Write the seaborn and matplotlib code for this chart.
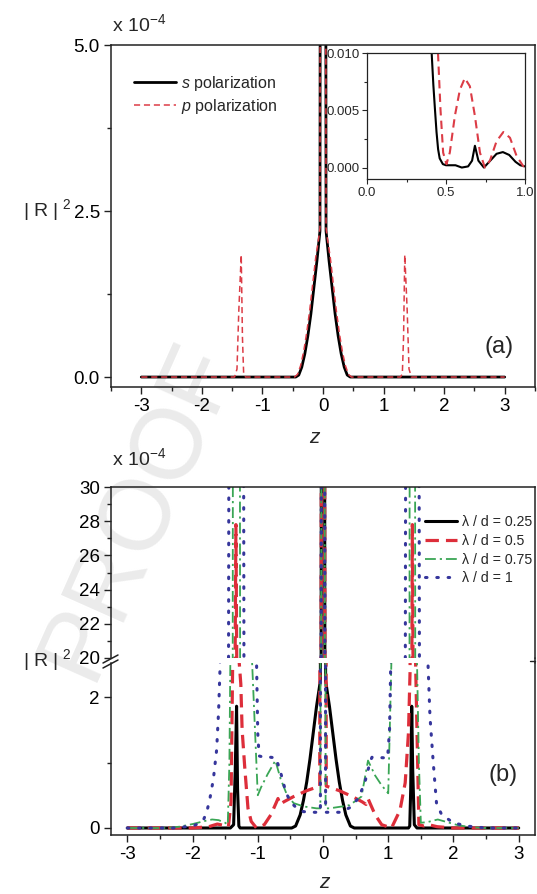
import matplotlib
matplotlib.use('Agg')
import matplotlib.pyplot as plt
import seaborn as sns
import pandas as pd
from matplotlib.lines import Line2D
from matplotlib.ticker import MultipleLocator, FormatStrFormatter

sns.set_theme(style='ticks')
plt.rcParams['font.family'] = ['Liberation Sans', 'DejaVu Sans']
plt.rcParams['mathtext.fontset'] = 'custom'
plt.rcParams['mathtext.rm'] = 'Liberation Sans'
plt.rcParams['mathtext.it'] = 'Liberation Sans:italic'
plt.rcParams['axes.linewidth'] = 1.1
plt.rcParams['axes.edgecolor'] = '#222222'
plt.rcParams['axes.facecolor'] = 'none'

# ---- panel (a): |R|^2 (x 1e-4) vs z ----
z_s_a = [-3.0, -0.45, -0.40, -0.35, -0.30, -0.25, -0.20, -0.15, -0.10, -0.05, -0.045, 0.0,
         0.045, 0.05, 0.10, 0.15, 0.20, 0.25, 0.30, 0.35, 0.40, 0.45, 3.0]
r_s_a = [0.0, 0.0, 0.03, 0.15, 0.35, 0.62, 0.95, 1.35, 1.75, 2.20, 8.0, 20.0,
         8.0, 2.20, 1.75, 1.35, 0.95, 0.62, 0.35, 0.15, 0.03, 0.0, 0.0]

z_p_a = [-3.0, -1.46, -1.42, -1.39, -1.35, -1.33, -1.31, -1.28, -0.47, -0.42, -0.37, -0.32,
         -0.27, -0.22, -0.17, -0.12, -0.07, -0.05, -0.045, 0.0, 0.045, 0.05, 0.07, 0.12,
         0.17, 0.22, 0.27, 0.32, 0.37, 0.42, 0.47, 1.28, 1.31, 1.33, 1.35, 1.39, 1.42, 1.46, 3.0]
r_p_a = [0.0, 0.0, 0.12, 1.00, 1.84, 0.60, 0.05, 0.0, 0.0, 0.04, 0.17, 0.38,
         0.66, 1.00, 1.40, 1.80, 2.10, 2.25, 8.0, 20.0, 8.0, 2.25, 2.10, 1.80,
         1.40, 1.00, 0.66, 0.38, 0.17, 0.04, 0.0, 0.0, 0.05, 0.60, 1.84, 1.00, 0.12, 0.0, 0.0]

# inset of panel (a)
z_s_in = [0.0, 0.40, 0.41, 0.42, 0.43, 0.44, 0.45, 0.46, 0.48, 0.50, 0.53, 0.56, 0.60, 0.64,
          0.665, 0.683, 0.705, 0.74, 0.78, 0.82, 0.86, 0.90, 0.94, 0.97, 1.0]
r_s_in = [0.05, 0.0130, 0.0098, 0.0072, 0.0051, 0.0031, 0.0016, 0.0008, 0.0003, 0.0002, 0.0002,
          0.0002, 0.0, 0.0001, 0.0006, 0.0019, 0.0006, 0.0, 0.0006, 0.0012, 0.00135, 0.0011,
          0.0005, 0.0002, 0.0001]
z_p_in = [0.0, 0.44, 0.45, 0.465, 0.482, 0.503, 0.524, 0.556, 0.588, 0.619, 0.651, 0.683,
          0.715, 0.746, 0.778, 0.82, 0.863, 0.905, 0.947, 0.99, 1.0]
r_p_in = [0.05, 0.0140, 0.0098, 0.0051, 0.0013, 0.0003, 0.0013, 0.0045, 0.0068, 0.0078, 0.0071,
          0.0045, 0.0013, 0.0, 0.0006, 0.0023, 0.0031, 0.0026, 0.0010, 0.0001, 0.0]

# ---- panel (b): four lambda/d values ----
z_b1 = [-3.0, -1.42, -1.37, -1.345, -1.325, -1.31, -1.29, -1.27, -0.48, -0.42, -0.35, -0.30,
        -0.25, -0.20, -0.15, -0.10, -0.04, -0.03, -0.025, 0.0, 0.025, 0.03, 0.04, 0.10, 0.15,
        0.20, 0.25, 0.30, 0.35, 0.42, 0.48, 1.31, 1.33, 1.345, 1.36, 1.375, 1.40, 1.44, 3.0]
r_b1 = [0.0, 0.0, 0.05, 0.9, 1.86, 0.6, 0.03, 0.0, 0.0, 0.03, 0.2, 0.42,
        0.7, 1.05, 1.45, 1.85, 2.25, 15.0, 35.0, 45.0, 35.0, 15.0, 2.25, 1.85, 1.45,
        1.05, 0.7, 0.42, 0.2, 0.03, 0.0, 0.0, 0.03, 0.6, 1.86, 0.9, 0.05, 0.0, 0.0]

z_b2 = [-3.0, -2.0, -1.75, -1.62, -1.52, -1.45, -1.41, -1.385, -1.36, -1.335, -1.31, -1.29,
        -1.26, -1.24, -1.20, -1.15, -1.10, -1.02, -0.90, -0.80, -0.72, -0.69, -0.66, -0.60,
        -0.45, -0.25, -0.05, -0.03, -0.025, 0.0, 0.025, 0.03, 0.05, 0.25, 0.45, 0.60, 0.66,
        0.69, 0.72, 0.80, 0.90, 1.05, 1.18, 1.26, 1.31, 1.335, 1.355, 1.37, 1.39, 1.42, 1.47,
        1.55, 1.62, 1.75, 2.0, 3.0]
r_b2 = [0.0, 0.0, 0.02, 0.06, 0.04, 0.02, 0.4, 2.5, 12.0, 27.8, 12.0, 2.6,
        2.2, 1.5, 0.93, 0.3, 0.1, 0.0, 0.05, 0.2, 0.38, 0.45, 0.36, 0.40,
        0.48, 0.57, 0.64, 15.0, 35.0, 45.0, 35.0, 15.0, 0.64, 0.57, 0.48, 0.40, 0.36,
        0.45, 0.38, 0.2, 0.05, 0.0, 0.27, 0.69, 1.45, 2.4, 12.0, 27.8, 12.0, 2.5, 0.05,
        0.03, 0.05, 0.02, 0.0, 0.0]

z_b3 = [-3.0, -2.4, -2.2, -2.0, -1.8, -1.7, -1.6, -1.5, -1.46, -1.435, -1.42, -1.40, -1.385,
        -1.38, -1.33, -1.275, -1.27, -1.15, -1.09, -1.0, -0.95, -0.85, -0.73, -0.65, -0.55,
        -0.45, -0.30, -0.10, -0.04, -0.03, -0.025, 0.0, 0.025, 0.03, 0.04, 0.10, 0.30, 0.41,
        0.59, 0.69, 0.80, 0.90, 1.0, 1.05, 1.20, 1.325, 1.33, 1.37, 1.41, 1.415, 1.44, 1.47,
        1.50, 1.60, 1.76, 1.90, 2.08, 2.30, 2.50, 3.0]
r_b3 = [0.0, 0.0, 0.02, 0.06, 0.11, 0.13, 0.12, 0.08, 0.05, 1.0, 2.6, 10.0, 15.0,
        40.0, 60.0, 40.0, 15.0, 8.0, 2.6, 0.5, 0.62, 0.82, 1.03, 0.75, 0.5,
        0.38, 0.33, 0.30, 0.30, 15.0, 35.0, 45.0, 35.0, 15.0, 0.30, 0.30, 0.33, 0.35,
        0.48, 1.03, 0.80, 0.65, 0.53, 2.6, 8.0, 15.0, 40.0, 60.0, 40.0, 15.0, 2.6, 1.0,
        0.08, 0.09, 0.13, 0.09, 0.04, 0.01, 0.0, 0.0]

z_b4 = [-3.0, -2.3, -2.0, -1.9, -1.83, -1.78, -1.73, -1.68, -1.63, -1.60, -1.58, -1.55, -1.45,
        -1.44, -1.33, -1.22, -1.21, -1.08, -1.02, -1.0, -0.98, -0.90, -0.80, -0.72, -0.65,
        -0.57, -0.50, -0.40, -0.30, -0.15, -0.04, -0.03, -0.025, 0.0, 0.025, 0.03, 0.04, 0.26,
        0.41, 0.54, 0.64, 0.72, 0.75, 0.99, 1.02, 1.04, 1.10, 1.26, 1.27, 1.37, 1.47, 1.48,
        1.58, 1.61, 1.64, 1.69, 1.74, 1.82, 2.0, 2.2, 2.5, 3.0]
r_b4 = [0.0, 0.0, 0.03, 0.07, 0.13, 0.25, 0.47, 0.75, 1.2, 1.8, 2.4, 8.0, 15.0,
        40.0, 60.0, 40.0, 15.0, 8.0, 2.6, 1.45, 1.1, 1.08, 1.08, 1.07, 0.85,
        0.55, 0.40, 0.30, 0.25, 0.24, 0.24, 15.0, 35.0, 45.0, 35.0, 15.0, 0.24, 0.24,
        0.31, 0.45, 0.69, 1.0, 1.08, 1.07, 1.5, 2.6, 8.0, 15.0, 40.0, 60.0, 40.0, 15.0,
        8.0, 2.5, 1.7, 1.0, 0.38, 0.2, 0.08, 0.03, 0.0, 0.0]

W, H = 537, 894
fig = plt.figure(figsize=(W / 100, H / 100), dpi=100)


def px_rect(l, t, r, b):
    return [l / W, 1 - b / H, (r - l) / W, (b - t) / H]


def style_ticks(ax, size=13.5):
    ax.tick_params(which='major', direction='out', length=5, width=1.0, labelsize=size,
                   pad=3, color='#222222', labelcolor='black')
    ax.tick_params(which='minor', direction='out', length=3, width=1.0, color='#222222')


# watermark behind everything
fig.text(138 / W, 1 - 510 / H, 'PROOF', rotation=66, fontsize=72, color='#ebebeb',
         ha='center', va='center', zorder=-1)

red_a = '#dc3c46'
red_b = '#dd2e3a'
green_b = '#3aa655'
blue_b = '#36369c'

# ---------------- panel (a) ----------------
ax_a = fig.add_axes(px_rect(111, 45, 535, 387))
sns.lineplot(x=z_s_a, y=r_s_a, ax=ax_a, color='black', lw=2.0, estimator=None,
             sort=False, label=r'$s$ polarization')
sns.lineplot(x=z_p_a, y=r_p_a, ax=ax_a, color=red_a, lw=1.1, estimator=None,
             sort=False, linestyle=(0, (4, 2.5)), label=r'$p$ polarization')
ax_a.set_xlim(-3.5, 3.5)
ax_a.set_ylim(-0.15, 5.0)
ax_a.xaxis.set_minor_locator(MultipleLocator(0.5))
ax_a.yaxis.set_major_locator(MultipleLocator(2.5))
ax_a.yaxis.set_minor_locator(MultipleLocator(1.25))
ax_a.yaxis.set_major_formatter(FormatStrFormatter('%.1f'))
ax_a.set_xticks([-3, -2, -1, 0, 1, 2, 3])
ax_a.set_xticklabels(['-3', '-2', '-1', '0', '1', '2', '3'])
style_ticks(ax_a)
ax_a.set_xlabel('')
ax_a.set_ylabel('')
ax_a.legend(loc='upper left', bbox_to_anchor=(0.055, 0.915), frameon=False, fontsize=11.5,
            handlelength=2.6, handletextpad=0.35, labelspacing=0.25, borderpad=0,
            borderaxespad=0)
ax_a.text(0.915, 0.117, '(a)', transform=ax_a.transAxes, fontsize=17, ha='center',
          va='center')

# inset
ax_in = fig.add_axes(px_rect(367, 53, 525, 179))
ax_in.set_facecolor('white')
sns.lineplot(x=z_s_in, y=r_s_in, ax=ax_in, color='black', lw=1.5, estimator=None, sort=False)
sns.lineplot(x=z_p_in, y=r_p_in, ax=ax_in, color=red_a, lw=1.5, estimator=None, sort=False,
             linestyle=(0, (4, 2.5)))
ax_in.set_xlim(0, 1)
ax_in.set_ylim(-0.001, 0.010)
ax_in.xaxis.set_major_locator(MultipleLocator(0.5))
ax_in.xaxis.set_minor_locator(MultipleLocator(0.25))
ax_in.yaxis.set_major_locator(MultipleLocator(0.005))
ax_in.yaxis.set_minor_locator(MultipleLocator(0.0025))
ax_in.xaxis.set_major_formatter(FormatStrFormatter('%.1f'))
ax_in.yaxis.set_major_formatter(FormatStrFormatter('%.3f'))
ax_in.tick_params(which='major', direction='out', length=3.5, width=0.8, labelsize=9.5, pad=2)
ax_in.tick_params(which='minor', direction='out', length=2, width=0.8)
for s in ax_in.spines.values():
    s.set_linewidth(0.9)

# ---------------- panel (b), broken y axis ----------------
ax_hi = fig.add_axes(px_rect(111, 487, 535, 658))
ax_lo = fig.add_axes(px_rect(111, 663, 535, 835))

curves_b = [
    (z_b1, r_b1, 'black', 2.2, '-', 'λ / d = 0.25'),
    (z_b2, r_b2, red_b, 2.3, (0, (4.2, 2.2)), 'λ / d = 0.5'),
    (z_b3, r_b3, green_b, 1.3, (0, (6, 2.2, 1.2, 2.2)), 'λ / d = 0.75'),
    (z_b4, r_b4, blue_b, 2.2, (0, (0.5, 3.2)), 'λ / d = 1'),
]
for zz, rr, col, lw, ls, lab in curves_b:
    for ax in (ax_hi, ax_lo):
        sns.lineplot(x=zz, y=rr, ax=ax, color=col, lw=lw, linestyle=ls, estimator=None,
                     sort=False, label=lab if ax is ax_hi else None,
                     dash_capstyle='round' if col == blue_b else 'butt')

for ax in (ax_hi, ax_lo):
    ax.set_xlim(-3.25, 3.25)
    ax.xaxis.set_minor_locator(MultipleLocator(0.5))
    style_ticks(ax)
    ax.set_xlabel('')
    ax.set_ylabel('')

ax_hi.set_ylim(20, 30)
ax_hi.yaxis.set_major_locator(MultipleLocator(2))
ax_hi.yaxis.set_minor_locator(MultipleLocator(1))
ax_hi.spines['bottom'].set_visible(False)
ax_hi.tick_params(axis='x', which='both', bottom=False, labelbottom=False)

ax_lo.set_ylim(-0.107, 2.52)
ax_lo.yaxis.set_major_locator(MultipleLocator(2))
ax_lo.yaxis.set_minor_locator(MultipleLocator(1))
ax_lo.spines['top'].set_visible(False)
ax_lo.set_xticks([-3, -2, -1, 0, 1, 2, 3])
ax_lo.set_xticklabels(['-3', '-2', '-1', '0', '1', '2', '3'])

ax_hi.legend(loc='upper left', bbox_to_anchor=(0.74, 0.835), frameon=False, fontsize=10.2,
             handlelength=2.3, handletextpad=0.35, labelspacing=0.33, borderpad=0,
             borderaxespad=0)
ax_lo.text(0.925, 0.35, '(b)', transform=ax_lo.transAxes, fontsize=17, ha='center',
           va='center')

# break marks on the left spine, right spine kept continuous
bx = 111 / W
for dy in (0, 5):
    y0 = 1 - (663 + dy) / H
    y1 = 1 - (655 + dy) / H
    fig.add_artist(Line2D([bx - 8 / W, bx + 7 / W], [y0, y1], transform=fig.transFigure,
                          color='#222222', lw=1.1))
rx = 535 / W
fig.add_artist(Line2D([rx, rx], [1 - 658 / H, 1 - 663 / H], transform=fig.transFigure,
                      color='#222222', lw=1.1))
fig.add_artist(Line2D([rx - 5 / W, rx], [1 - 660.5 / H, 1 - 660.5 / H],
                      transform=fig.transFigure, color='#222222', lw=1.0))

# shared labels
for ybase in (31, 465):
    fig.text(112 / W, 1 - ybase / H, r'x 10$^{-4}$', fontsize=14, ha='left', va='baseline')
fig.text(314 / W, 1 - 437 / H, 'z', fontsize=15, style='italic', ha='center', va='center')
fig.text(324 / W, 1 - 883 / H, 'z', fontsize=15, style='italic', ha='center', va='center')
for yc in (210, 660):
    fig.text(47 / W, 1 - yc / H, r'| R |$^{\ 2}$', fontsize=14, ha='center', va='center')

fig.savefig('out.png', dpi=100)
